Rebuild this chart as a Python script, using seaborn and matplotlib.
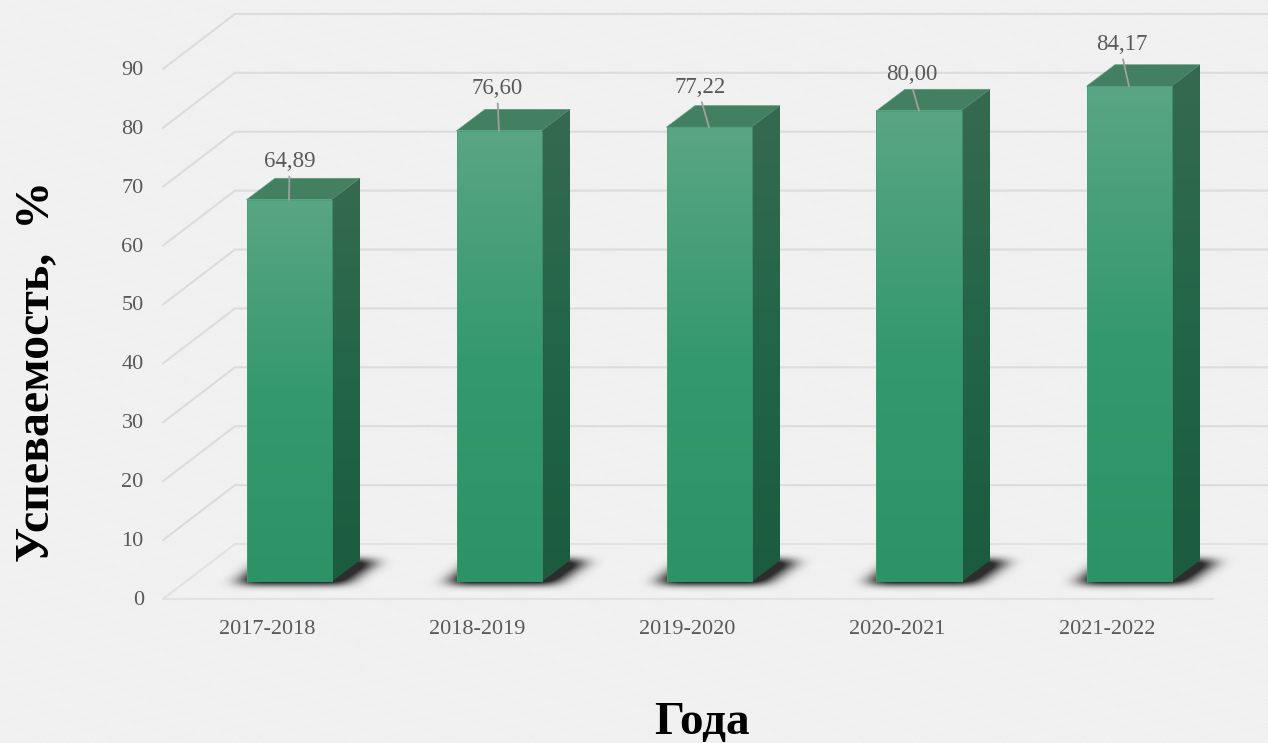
import numpy as np
import pandas as pd
import seaborn as sns
import matplotlib
matplotlib.use('Agg')
import matplotlib.pyplot as plt
from matplotlib.colors import LinearSegmentedColormap
from matplotlib.patches import Polygon
from matplotlib.path import Path
from matplotlib.transforms import ScaledTranslation

# Data
years = ['2017-2018', '2018-2019', '2019-2020', '2020-2021', '2021-2022']
values = [64.89, 76.60, 77.22, 80.00, 84.17]
value_ticks = [0, 10, 20, 30, 40, 50, 60, 70, 80, 90]

# picture geometry, in pixels
W, H = 1268, 743
BAR_STEP = 210.0
BAR_CENTER = 289.0
BASE_Y = 582.0
PX_PER_UNIT = 5.89
DEPTH_X, DEPTH_Y = 28.5, 21.5
# label offset from the middle of each bar top (x, up)
label_shift = [(0.5, 38.5), (-1.5, 42.5), (-8.5, 40), (-7.5, 36.5), (-7, 42)]

TEXT = '#595959'
SERIF = ['Liberation Serif', 'DejaVu Serif']

front_cmap = LinearSegmentedColormap.from_list('front', ['#2E9267', '#35996F', '#5AA584'])
side_cmap = LinearSegmentedColormap.from_list('side', ['#1B5B3F', '#226548', '#366A50'])


def px_x(p):
    return (p - BAR_CENTER) / BAR_STEP


def px_y(p):
    return (BASE_Y - p) / PX_PER_UNIT


def paper_background():
    # faint diagonal grain of the paper
    yy, xx = np.mgrid[0:H, 0:W]
    grain = np.sin((xx + 2.1 * yy) * 0.9) + 0.6 * np.sin((xx * 0.4 - yy) * 0.23)
    return np.clip(240 + 1.2 * grain, 0, 255) / 255


def draw_walls(ax):
    grid = '#DCDCDC'
    for v in value_ticks:
        front_y = px_y(599 - PX_PER_UNIT * v)
        back_y = px_y(544 - PX_PER_UNIT * v)
        color = '#E2E2E2' if v == 0 else grid
        ax.plot([px_x(163), px_x(235), px_x(1268)], [front_y, back_y, back_y],
                color=color, lw=1.5, zorder=1, clip_on=False, solid_joinstyle='miter')
    floor_y = px_y(599)
    ax.plot([px_x(163), px_x(1213)], [floor_y, floor_y], color='#E2E2E2', lw=1.5,
            zorder=1, clip_on=False)


def draw_shadow(ax, center):
    # blurred dark parallelogram at the foot of a bar, softer sideways
    left, right = center - 100, center + 135
    top, bottom = 530, 612
    ys, xs = np.mgrid[top:bottom, left:right]
    c = center
    path = Path([(c - 52, 584), (c + 55, 584), (c + 88, 560), (c - 22, 560)])
    pts = np.column_stack([xs.ravel() + 0.5, ys.ravel() + 0.5])
    mask = path.contains_points(pts).reshape(xs.shape).astype(float)
    kernel_x = np.ones(19) / 19
    kernel_y = np.ones(7) / 7
    for _ in range(3):
        mask = np.apply_along_axis(np.convolve, 0, mask, kernel_y, mode='same')
        mask = np.apply_along_axis(np.convolve, 1, mask, kernel_x, mode='same')
    rgba = np.zeros(mask.shape + (4,))
    rgba[..., :3] = 0.18
    rgba[..., 3] = np.clip(mask * 1.5, 0, 1)
    ax.imshow(rgba, extent=[px_x(left), px_x(right), px_y(bottom), px_y(top)],
              aspect='auto', zorder=2, clip_on=False, interpolation='bilinear')


def draw_bar_depth(ax, patch):
    x0, w, h = patch.get_x(), patch.get_width(), patch.get_height()
    x1 = x0 + w
    dx, dy = DEPTH_X / BAR_STEP, DEPTH_Y / PX_PER_UNIT

    # top face
    ax.add_patch(Polygon([(x0, h), (x1, h), (x1 + dx, h + dy), (x0 + dx, h + dy)],
                         facecolor='#437F61', edgecolor='#5F9A7E', lw=0.5, zorder=3))

    # side face with a vertical gradient
    side = Polygon([(x1, 0), (x1 + dx, dy), (x1 + dx, h + dy), (x1, h)],
                   facecolor='none', edgecolor='none', zorder=3)
    ax.add_patch(side)
    im = ax.imshow(np.linspace(0, 1, 256).reshape(-1, 1), origin='lower', cmap=side_cmap,
                   extent=[x1, x1 + dx, 0, h + dy], aspect='auto', zorder=3)
    im.set_clip_path(side)

    # front face gradient over the seaborn bar
    ax.imshow(np.linspace(0, 1, 256).reshape(-1, 1), origin='lower', cmap=front_cmap,
              extent=[x0, x1, 0, h], aspect='auto', zorder=4)
    patch.set_facecolor('none')
    patch.set_edgecolor('#459E78')
    patch.set_linewidth(0.5)
    patch.set_zorder(5)


def main():
    sns.set_theme(style='white')
    plt.rcParams['font.family'] = SERIF

    df = pd.DataFrame({'Года': years, 'Успеваемость': values})

    fig = plt.figure(figsize=(W / 100, H / 100), dpi=100)
    fig.figimage(paper_background(), cmap='gray', vmin=0, vmax=1, zorder=-1)
    ax = fig.add_axes([150 / W, (H - BASE_Y) / H, (W - 150) / W, BASE_Y / H])
    ax.patch.set_alpha(0)

    sns.barplot(data=df, x='Года', y='Успеваемость', color='#35996F', saturation=1,
                width=85 / BAR_STEP, ax=ax)

    draw_walls(ax)
    for i, patch in enumerate(ax.patches):
        draw_shadow(ax, int(BAR_CENTER + i * BAR_STEP))
    for patch in list(ax.patches):
        if patch.get_height() in values:
            draw_bar_depth(ax, patch)

    for i, v in enumerate(values):
        sx, sy = label_shift[i]
        ax.annotate(f'{v:.2f}'.replace('.', ','), xy=(i, v),
                    xytext=(sx * 0.72, sy * 0.72), textcoords='offset points',
                    ha='center', va='center', fontsize=16.5, color=TEXT, zorder=6,
                    arrowprops=dict(arrowstyle='-', color='#A0A0A0', lw=1.3,
                                    shrinkA=1, shrinkB=0, relpos=(0.5, 0)))

    ax.set_xlim(px_x(150), px_x(W))
    ax.set_ylim(0, BASE_Y / PX_PER_UNIT)
    sns.despine(ax=ax, left=True, bottom=True, top=True, right=True)

    ax.set_yticks(value_ticks)
    ax.tick_params(axis='y', length=0, pad=4.5, labelsize=16, labelcolor=TEXT)
    ax.tick_params(axis='x', length=0, pad=27, labelsize=16, labelcolor=TEXT)
    down = ScaledTranslation(0, -16 / 100, fig.dpi_scale_trans)
    for lab in ax.get_yticklabels():
        lab.set_transform(lab.get_transform() + down)
    shift = ScaledTranslation(-22 / 100, 0, fig.dpi_scale_trans)
    for lab in ax.get_xticklabels():
        lab.set_transform(lab.get_transform() + shift)

    ax.set_xlabel('Года', fontsize=34, fontweight='bold', color='black')
    ax.set_ylabel('Успеваемость,  %', fontsize=34.5, fontweight='bold', color='black')
    ax.xaxis.set_label_coords(px_x(702), px_y(723), transform=ax.transData)
    ax.yaxis.set_label_coords(px_x(36), px_y(371), transform=ax.transData)
    ax.xaxis.label.set_verticalalignment('center')
    ax.yaxis.label.set_verticalalignment('center')

    fig.savefig('out.png', dpi=100)
    plt.close(fig)


if __name__ == '__main__':
    main()
